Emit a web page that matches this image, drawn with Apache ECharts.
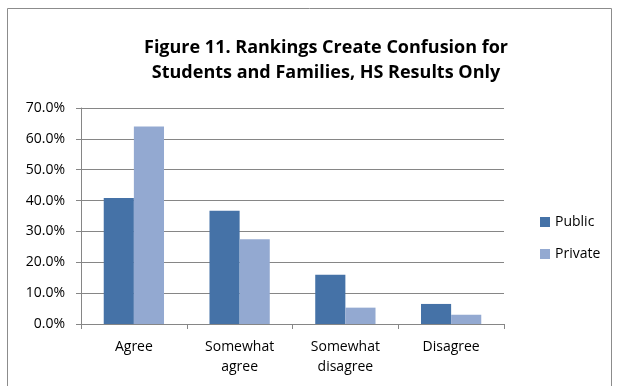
<!DOCTYPE html>
<html>
<head>
<meta charset="utf-8">
<script src="https://cdn.jsdelivr.net/npm/echarts@6/dist/echarts.min.js"></script>
<style>
  html, body { margin: 0; padding: 0; background: #fff; }
  #chart { width: 617px; height: 386px; }
</style>
</head>
<body>
<div id="chart"></div>
<script>
// Survey responses by school type (share of respondents)
const categories = ['Agree', 'Somewhat\nagree', 'Somewhat\ndisagree', 'Disagree'];
const publicValues = [40.8, 36.7, 16.0, 6.5];
const privateValues = [64.0, 27.5, 5.3, 3.0];
const seriesNames = ['Public', 'Private'];
const yTicks = [0, 10, 20, 30, 40, 50, 60, 70];
const titleText = 'Figure 11. Rankings Create Confusion for\nStudents and Families, HS Results Only';

const FONT = 'Open Sans';
const chart = echarts.init(document.getElementById('chart'), null, { renderer: 'canvas' });

chart.setOption({
  animation: false,
  backgroundColor: '#ffffff',
  graphic: [{
    type: 'rect',
    shape: { x: 7.5, y: 8.5, width: 604, height: 390 },
    style: { fill: 'none', stroke: '#8c8c8c', lineWidth: 1 },
    silent: true
  }, {
    type: 'text',
    x: 326,
    y: 35,
    style: {
      text: titleText,
      textAlign: 'center',
      textVerticalAlign: 'top',
      fontFamily: FONT,
      fontWeight: 'bold',
      fontSize: 18,
      lineHeight: 25,
      fill: '#000'
    },
    silent: true
  }],
  legend: {
    orient: 'vertical',
    left: 535,
    top: 210,
    itemWidth: 10,
    itemHeight: 10,
    itemGap: 18,
    icon: 'rect',
    textStyle: { fontFamily: FONT, fontSize: 14, color: '#000' },
    data: seriesNames
  },
  grid: { left: 81, right: 113, top: 108, bottom: 62, containLabel: false },
  xAxis: {
    type: 'category',
    data: categories,
    axisLine: { lineStyle: { color: '#868686', width: 1 } },
    axisTick: { show: true, length: 5, lineStyle: { color: '#868686' } },
    axisLabel: {
      fontFamily: FONT, fontSize: 14, color: '#000',
      lineHeight: 20, margin: 13
    }
  },
  yAxis: {
    type: 'value',
    min: yTicks[0],
    max: yTicks[yTicks.length - 1],
    interval: 10,
    axisLine: { show: true, lineStyle: { color: '#868686', width: 1 } },
    axisTick: { show: true, length: 5, lineStyle: { color: '#868686' } },
    splitLine: { lineStyle: { color: '#868686', width: 1 } },
    axisLabel: {
      fontFamily: FONT, fontSize: 14, color: '#000', margin: 16,
      formatter: v => v.toFixed(1) + '%'
    }
  },
  series: [
    {
      name: seriesNames[0], type: 'bar', data: publicValues,
      barGap: '0%', barCategoryGap: '43%',
      itemStyle: { color: '#4572a7' }
    },
    {
      name: seriesNames[1], type: 'bar', data: privateValues,
      barGap: '0%', barCategoryGap: '43%',
      itemStyle: { color: '#93a9d1' }
    }
  ]
});
</script>
</body>
</html>
